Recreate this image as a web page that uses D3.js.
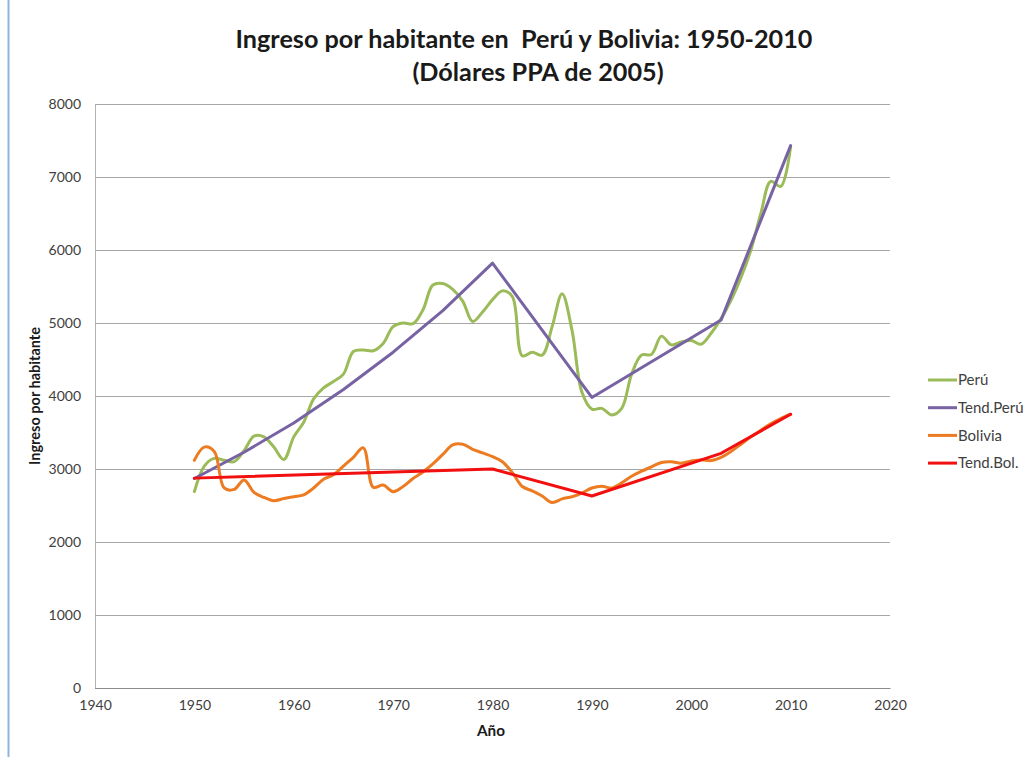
<!DOCTYPE html>
<html>
<head>
<meta charset="utf-8">
<script src="https://cdn.jsdelivr.net/npm/d3@7"></script>
<style>
  html, body { margin: 0; padding: 0; background: #fff; }
  svg { display: block; font-family: Lato, "Open Sans", sans-serif; }
</style>
</head>
<body>
<div id="chart"></div>
<script>
// data
const years = [1950, 1951, 1952, 1953, 1954, 1955, 1956, 1957, 1958, 1959,
    1960, 1961, 1962, 1963, 1964, 1965, 1966, 1967, 1968, 1969,
    1970, 1971, 1972, 1973, 1974, 1975, 1976, 1977, 1978, 1979,
    1980, 1981, 1982, 1983, 1984, 1985, 1986, 1987, 1988, 1989,
    1990, 1991, 1992, 1993, 1994, 1995, 1996, 1997, 1998, 1999,
    2000, 2001, 2002, 2003, 2004, 2005, 2006, 2007, 2008, 2009, 2010];

const peru = [2690, 3040, 3145, 3120, 3100, 3250, 3450, 3440, 3300, 3130,
    3440, 3640, 3960, 4110, 4200, 4300, 4610, 4630, 4620, 4720,
    4950, 5000, 4990, 5180, 5520, 5540, 5460, 5300, 5020, 5150,
    5320, 5440, 5360, 4550, 4600, 4560, 4950, 5400, 4900, 4050,
    3820, 3830, 3740, 3830, 4300, 4560, 4570, 4820, 4700, 4740,
    4760, 4710, 4860, 5060, 5310, 5620, 6000, 6500, 6940, 6870, 7420];

const bolivia = [3120, 3300, 3240, 2740, 2720, 2850, 2680, 2610, 2565, 2595,
    2620, 2645, 2740, 2860, 2920, 3040, 3160, 3290, 2750, 2780,
    2690, 2760, 2870, 2960, 3070, 3200, 3330, 3340, 3270, 3220,
    3170, 3100, 2950, 2760, 2700, 2630, 2540, 2590, 2620, 2670,
    2740, 2765, 2740, 2810, 2900, 2970, 3030, 3090, 3100, 3080,
    3110, 3125, 3115, 3160, 3240, 3340, 3440, 3530, 3620, 3690, 3750];

const trendPeruYears = [1950, 1955, 1960, 1965, 1970, 1975, 1980, 1990, 2003, 2010];
const trendPeru = [2870, 3230, 3630, 4090, 4600, 5170, 5820, 3980, 5040, 7430];

const trendBolYears = [1950, 1980, 1990, 2003, 2010];
const trendBol = [2875, 3000, 2630, 3215, 3750];

const yTicks = [0, 1000, 2000, 3000, 4000, 5000, 6000, 7000, 8000];
const xTicks = [1940, 1950, 1960, 1970, 1980, 1990, 2000, 2010, 2020];

const seriesNames = ["Perú", "Tend.Perú", "Bolivia", "Tend.Bol."];
const seriesColors = ["#9bbb59", "#7763a3", "#ec7b22", "#f20f0f"];

const width = 1032;
const height = 757;
const margin = { top: 104, right: 142, bottom: 69, left: 95 };

const x = d3.scaleLinear()
    .domain([1940, 2020])
    .range([margin.left, width - margin.right]);

const y = d3.scaleLinear()
    .domain([0, 8000])
    .range([height - margin.bottom, margin.top]);

const svg = d3.create("svg")
    .attr("width", width)
    .attr("height", height);

// thin blue frame edge on the left
svg.append("line")
    .attr("x1", 8.5).attr("x2", 8.5)
    .attr("y1", 0).attr("y2", height)
    .attr("stroke", "#8db3e2")
    .attr("stroke-width", 2);

// gridlines + y labels
const yAxis = svg.append("g")
    .attr("transform", `translate(${margin.left},0)`)
    .call(d3.axisLeft(y)
        .tickValues(yTicks)
        .tickFormat(d3.format("d"))
        .tickSize(-(width - margin.left - margin.right))
        .tickPadding(14));

yAxis.select(".domain").attr("stroke", "#b4b4b4");
yAxis.selectAll(".tick line")
    .attr("stroke", d => d === 0 ? "#8c8c8c" : "#a6a6a6");
yAxis.selectAll(".tick text")
    .attr("font-family", "Lato, sans-serif")
    .attr("font-size", "14px")
    .attr("fill", "#404040");

const xAxis = svg.append("g")
    .attr("transform", `translate(0,${height - margin.bottom})`)
    .call(d3.axisBottom(x)
        .tickValues(xTicks)
        .tickFormat(d3.format("d"))
        .tickSize(0)
        .tickPadding(12));

xAxis.select(".domain").attr("stroke", "#8c8c8c");
xAxis.selectAll(".tick text")
    .attr("font-family", "Lato, sans-serif")
    .attr("font-size", "14px")
    .attr("fill", "#404040");

// lines
const smooth = d3.line()
    .x(d => x(d[0]))
    .y(d => y(d[1]))
    .curve(d3.curveCatmullRom.alpha(0.5));

const straight = d3.line()
    .x(d => x(d[0]))
    .y(d => y(d[1]));

const lineData = [
    { values: d3.zip(years, peru), gen: smooth, color: seriesColors[0] },
    { values: d3.zip(trendPeruYears, trendPeru), gen: straight, color: seriesColors[1] },
    { values: d3.zip(years, bolivia), gen: smooth, color: seriesColors[2] },
    { values: d3.zip(trendBolYears, trendBol), gen: straight, color: seriesColors[3] },
];

svg.append("g")
    .selectAll("path")
    .data(lineData)
    .join("path")
    .attr("d", d => d.gen(d.values))
    .attr("fill", "none")
    .attr("stroke", d => d.color)
    .attr("stroke-width", 3)
    .attr("stroke-linejoin", "round")
    .attr("stroke-linecap", "round");

// legend
const legend = svg.append("g")
    .attr("transform", "translate(928,380)")
    .selectAll("g")
    .data(seriesNames)
    .join("g")
    .attr("transform", (d, i) => `translate(0,${i * 27.7})`);

legend.append("line")
    .attr("x1", 0).attr("x2", 29)
    .attr("stroke", (d, i) => seriesColors[i])
    .attr("stroke-width", 3);

legend.append("text")
    .attr("x", 30)
    .attr("dy", "0.35em")
    .attr("font-size", "15px")
    .attr("fill", "#404040")
    .text(d => d);

// titles
const title1 = svg.append("text")
    .attr("x", 524)
    .attr("y", 48)
    .attr("text-anchor", "middle")
    .attr("font-weight", "bold")
    .attr("font-size", "25px")
    .attr("fill", "#1a1a1a")
    .style("white-space", "pre")
    .text("Ingreso por habitante en  Perú y Bolivia: 1950-2010");

const title2 = svg.append("text")
    .attr("x", 538)
    .attr("y", 81)
    .attr("text-anchor", "middle")
    .attr("font-weight", "bold")
    .attr("font-size", "25px")
    .attr("fill", "#1a1a1a")
    .text("(Dólares PPA de 2005)");

const xTitle = svg.append("text")
    .attr("x", 491)
    .attr("y", 736)
    .attr("text-anchor", "middle")
    .attr("font-weight", "bold")
    .attr("font-size", "13px")
    .attr("fill", "#1a1a1a")
    .text("Año");

const yTitle = svg.append("text")
    .attr("transform", `translate(40,${(y(0) + y(8000)) / 2}) rotate(-90)`)
    .attr("text-anchor", "middle")
    .attr("font-weight", "bold")
    .attr("font-size", "13px")
    .attr("fill", "#1a1a1a")
    .text("Ingreso por habitante");

d3.select("#chart").node().append(svg.node());

// scale text to the width it takes in the original
function fitWidth(sel, target) {
    const w = sel.node().getComputedTextLength();
    const size = parseFloat(sel.attr("font-size")) * target / w;
    sel.attr("font-size", size.toFixed(2) + "px");
    return size;
}
const titleSize = fitWidth(title1, 577);
title2.attr("font-size", titleSize.toFixed(2) + "px");
fitWidth(yTitle, 138);
fitWidth(xTitle, 28);
</script>
</body>
</html>
